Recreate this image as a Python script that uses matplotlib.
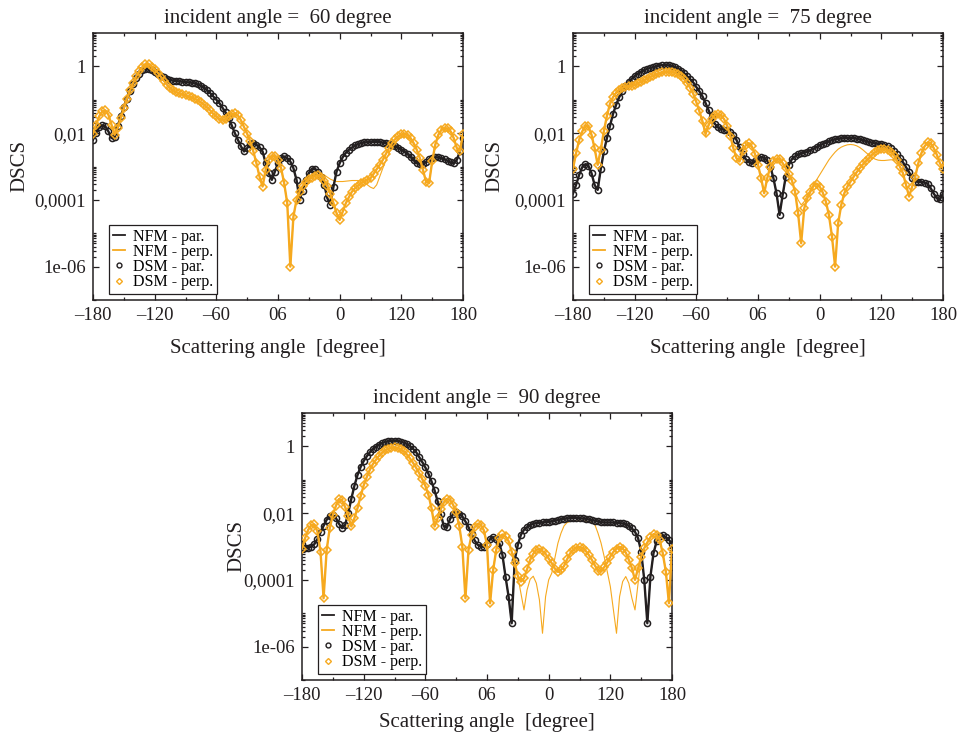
import numpy as np
import matplotlib
matplotlib.use("Agg")
import matplotlib.pyplot as plt
from matplotlib.lines import Line2D
from matplotlib.ticker import FixedLocator, FixedFormatter, NullFormatter

plt.rcParams['font.family'] = ['Liberation Serif', 'DejaVu Serif']

# ---------------- data (log10 of DSCS), scattering angle every 3 degrees ----------------
angles = np.arange(-180, 181, 3)

# incident angle 60
dsm_par_60 = [
    -2.20, -2.00, -1.83, -1.77, -1.80, -1.95, -2.15, -2.12, -1.80, -1.50,
    -1.22, -0.98, -0.75, -0.53, -0.35, -0.22, -0.11, -0.07, -0.08, -0.11,
    -0.17, -0.22, -0.28, -0.33, -0.37, -0.41, -0.43, -0.44, -0.45, -0.46,
    -0.47, -0.48, -0.49, -0.51, -0.54, -0.58, -0.64, -0.71, -0.80, -0.90,
    -1.00, -1.10, -1.24, -1.38, -1.56, -1.77, -2.00, -2.20, -2.40, -2.55,
    -2.45, -2.32, -2.30, -2.35, -2.42, -2.55, -2.90, -3.20, -3.40, -3.15,
    -2.90, -2.75, -2.70, -2.75, -2.85, -3.05, -3.40, -4.00, -3.72, -3.40,
    -3.20, -3.07, -3.07, -3.15, -3.30, -3.55, -3.95, -4.15, -3.60, -3.15,
    -2.90, -2.72, -2.59, -2.50, -2.43, -2.37, -2.33, -2.30, -2.28, -2.27,
    -2.26, -2.26, -2.26, -2.27, -2.29, -2.30, -2.33, -2.35, -2.40, -2.44,
    -2.50, -2.56, -2.63, -2.72, -2.82, -2.90, -2.93, -2.93, -2.87, -2.78,
    -2.74, -2.72, -2.73, -2.75, -2.78, -2.83, -2.88, -2.90, -2.80, -2.55,
    -2.15]
nfm_par_60 = [
    -2.20, -2.00, -1.83, -1.77, -1.80, -1.95, -2.15, -2.12, -1.80, -1.50,
    -1.22, -0.98, -0.75, -0.53, -0.35, -0.22, -0.11, -0.07, -0.08, -0.11,
    -0.17, -0.22, -0.28, -0.33, -0.37, -0.41, -0.43, -0.44, -0.45, -0.46,
    -0.47, -0.48, -0.49, -0.51, -0.54, -0.58, -0.64, -0.71, -0.80, -0.90,
    -1.00, -1.10, -1.24, -1.38, -1.56, -1.77, -2.00, -2.20, -2.40, -2.55,
    -2.45, -2.32, -2.30, -2.35, -2.42, -2.55, -2.90, -3.20, -3.40, -3.15,
    -2.90, -2.75, -2.70, -2.75, -2.85, -3.05, -3.40, -4.00, -3.72, -3.40,
    -3.20, -3.07, -3.07, -3.15, -3.30, -3.55, -3.95, -4.15, -3.60, -3.15,
    -2.90, -2.72, -2.59, -2.50, -2.43, -2.37, -2.33, -2.30, -2.28, -2.27,
    -2.26, -2.26, -2.26, -2.27, -2.29, -2.30, -2.33, -2.35, -2.38, -2.42,
    -2.47, -2.52, -2.58, -2.66, -2.76, -2.85, -2.90, -2.91, -2.86, -2.78,
    -2.74, -2.72, -2.73, -2.75, -2.78, -2.83, -2.88, -2.90, -2.80, -2.55,
    -2.15]
dsm_perp_60 = [
    -2.02, -1.75, -1.50, -1.35, -1.32, -1.45, -1.75, -2.05, -1.85, -1.55,
    -1.25, -0.97, -0.72, -0.50, -0.30, -0.15, -0.03, 0.06, 0.07, -0.01,
    -0.09, -0.19, -0.31, -0.43, -0.55, -0.65, -0.72, -0.77, -0.81, -0.84,
    -0.87, -0.90, -0.93, -0.97, -1.02, -1.08, -1.15, -1.23, -1.32, -1.42,
    -1.50, -1.58, -1.62, -1.58, -1.50, -1.43, -1.41, -1.47, -1.62, -1.82,
    -2.02, -2.25, -2.55, -2.90, -3.30, -3.60, -3.10, -2.80, -2.68, -2.68,
    -2.80, -3.05, -3.50, -4.10, -6.00, -4.50, -4.00, -3.75, -3.58, -3.45,
    -3.38, -3.33, -3.28, -3.25, -3.30, -3.42, -3.58, -3.82, -4.10, -4.40,
    -4.60, -4.35, -4.10, -3.92, -3.75, -3.65, -3.57, -3.50, -3.45, -3.40,
    -3.35, -3.22, -3.08, -2.95, -2.80, -2.62, -2.45, -2.30, -2.18, -2.10,
    -2.04, -2.02, -2.05, -2.15, -2.30, -2.50, -2.75, -3.10, -3.45, -3.50,
    -2.85, -2.35, -2.05, -1.90, -1.85, -1.86, -1.95, -2.15, -2.45, -2.55,
    -2.02]
nfm_perp_60 = [
    -2.02, -1.75, -1.50, -1.35, -1.32, -1.45, -1.75, -2.05, -1.85, -1.55,
    -1.25, -0.97, -0.72, -0.50, -0.30, -0.15, -0.03, 0.06, 0.07, -0.01,
    -0.09, -0.19, -0.31, -0.43, -0.55, -0.65, -0.72, -0.77, -0.81, -0.84,
    -0.87, -0.90, -0.93, -0.97, -1.02, -1.08, -1.15, -1.23, -1.32, -1.42,
    -1.50, -1.62, -1.68, -1.60, -1.50, -1.43, -1.41, -1.47, -1.62, -1.82,
    -2.02, -2.25, -2.55, -2.90, -3.30, -3.60, -3.10, -2.80, -2.68, -2.68,
    -2.80, -3.05, -3.50, -4.10, -6.00, -4.50, -4.00, -3.75, -3.58, -3.45,
    -3.38, -3.33, -3.28, -3.25, -3.22, -3.25, -3.32, -3.38, -3.42, -3.45,
    -3.45, -3.45, -3.44, -3.43, -3.42, -3.42, -3.42, -3.43, -3.47, -3.55,
    -3.62, -3.66, -3.55, -3.30, -3.05, -2.82, -2.60, -2.40, -2.27, -2.18,
    -2.12, -2.10, -2.12, -2.20, -2.32, -2.50, -2.75, -3.10, -3.45, -3.50,
    -2.85, -2.35, -2.05, -1.90, -1.85, -1.86, -1.95, -2.15, -2.45, -2.55,
    -2.02]

# incident angle 75
dsm_par_75 = [
    -3.81, -3.55, -3.25, -3.02, -2.93, -2.98, -3.20, -3.55, -3.70, -3.08,
    -2.55, -2.15, -1.78, -1.42, -1.15, -0.92, -0.75, -0.60, -0.47, -0.38,
    -0.29, -0.22, -0.17, -0.12, -0.08, -0.05, -0.03, 0.00, 0.02, 0.04,
    0.04, 0.03, 0.01, -0.02, -0.07, -0.13, -0.20, -0.29, -0.38, -0.48,
    -0.62, -0.75, -0.90, -1.10, -1.32, -1.53, -1.72, -1.83, -1.88, -1.90,
    -1.92, -1.97, -2.06, -2.20, -2.42, -2.62, -2.78, -2.86, -2.91, -2.85,
    -2.76, -2.72, -2.74, -2.82, -3.00, -3.35, -3.80, -4.45, -3.85, -3.30,
    -2.95, -2.78, -2.70, -2.64, -2.61, -2.59, -2.56, -2.51, -2.47, -2.42,
    -2.37, -2.33, -2.29, -2.25, -2.21, -2.19, -2.17, -2.16, -2.15, -2.15,
    -2.15, -2.15, -2.17, -2.19, -2.21, -2.24, -2.27, -2.29, -2.31, -2.32,
    -2.33, -2.35, -2.40, -2.46, -2.53, -2.63, -2.74, -2.87, -3.02, -3.17,
    -3.35, -3.45, -3.46, -3.46, -3.48, -3.52, -3.65, -3.81, -3.95, -3.98,
    -3.81]
nfm_par_75 = [
    -3.81, -3.55, -3.25, -3.02, -2.93, -2.98, -3.20, -3.55, -3.70, -3.08,
    -2.55, -2.15, -1.78, -1.42, -1.15, -0.92, -0.75, -0.60, -0.47, -0.38,
    -0.29, -0.22, -0.17, -0.12, -0.08, -0.05, -0.03, 0.00, 0.02, 0.04,
    0.04, 0.03, 0.01, -0.02, -0.07, -0.13, -0.20, -0.29, -0.38, -0.48,
    -0.62, -0.75, -0.90, -1.10, -1.32, -1.53, -1.72, -1.83, -1.88, -1.90,
    -1.92, -1.97, -2.06, -2.20, -2.42, -2.62, -2.78, -2.86, -2.91, -2.85,
    -2.76, -2.72, -2.74, -2.82, -3.00, -3.35, -3.80, -4.45, -3.85, -3.30,
    -2.95, -2.78, -2.70, -2.64, -2.61, -2.59, -2.56, -2.51, -2.47, -2.42,
    -2.37, -2.33, -2.29, -2.25, -2.21, -2.19, -2.17, -2.16, -2.15, -2.15,
    -2.15, -2.15, -2.17, -2.19, -2.21, -2.24, -2.27, -2.29, -2.31, -2.32,
    -2.33, -2.35, -2.40, -2.46, -2.53, -2.63, -2.74, -2.87, -3.02, -3.17,
    -3.35, -3.45, -3.46, -3.46, -3.48, -3.52, -3.65, -3.81, -3.95, -3.98,
    -3.81]
dsm_perp_75 = [
    -3.06, -2.60, -2.20, -1.95, -1.78, -1.80, -2.05, -2.45, -2.95, -2.50,
    -1.95, -1.48, -1.12, -0.92, -0.79, -0.70, -0.64, -0.61, -0.59, -0.58,
    -0.56, -0.51, -0.46, -0.42, -0.37, -0.32, -0.28, -0.24, -0.21, -0.18,
    -0.17, -0.16, -0.16, -0.19, -0.24, -0.30, -0.38, -0.50, -0.64, -0.82,
    -1.07, -1.35, -1.65, -2.00, -1.75, -1.57, -1.46, -1.42, -1.47, -1.58,
    -1.78, -2.08, -2.45, -2.75, -2.85, -2.55, -2.37, -2.30, -2.40, -2.62,
    -2.95, -3.35, -3.80, -3.35, -3.00, -2.85, -2.78, -2.78, -2.90, -3.05,
    -3.22, -3.42, -3.75, -4.40, -5.30, -4.25, -3.95, -3.75, -3.58, -3.51,
    -3.60, -3.78, -4.05, -4.45, -5.10, -6.00, -4.70, -4.15, -3.80, -3.60,
    -3.45, -3.31, -3.17, -3.05, -2.94, -2.84, -2.75, -2.65, -2.57, -2.51,
    -2.48, -2.47, -2.50, -2.56, -2.65, -2.80, -3.00, -3.20, -3.55, -3.90,
    -3.60, -3.30, -2.90, -2.60, -2.40, -2.28, -2.30, -2.45, -2.65, -2.90,
    -3.06]
nfm_perp_75 = [
    -3.06, -2.60, -2.20, -1.95, -1.78, -1.80, -2.05, -2.45, -2.95, -2.50,
    -1.95, -1.48, -1.12, -0.92, -0.79, -0.70, -0.64, -0.61, -0.59, -0.58,
    -0.56, -0.51, -0.46, -0.42, -0.37, -0.32, -0.28, -0.24, -0.21, -0.18,
    -0.17, -0.16, -0.16, -0.19, -0.24, -0.30, -0.38, -0.50, -0.64, -0.82,
    -1.07, -1.35, -1.70, -2.10, -1.78, -1.57, -1.46, -1.42, -1.47, -1.58,
    -1.78, -2.08, -2.45, -2.75, -2.85, -2.55, -2.37, -2.30, -2.40, -2.62,
    -2.95, -3.35, -3.80, -3.35, -3.00, -2.85, -2.78, -2.78, -2.90, -3.05,
    -3.22, -3.42, -3.75, -4.00, -4.15, -4.05, -3.85, -3.70, -3.55, -3.40,
    -3.25, -3.10, -2.95, -2.80, -2.68, -2.57, -2.48, -2.42, -2.38, -2.35,
    -2.34, -2.35, -2.38, -2.43, -2.50, -2.58, -2.66, -2.73, -2.78, -2.81,
    -2.82, -2.82, -2.81, -2.80, -2.80, -2.82, -3.00, -3.20, -3.55, -3.90,
    -3.60, -3.30, -2.90, -2.60, -2.40, -2.28, -2.30, -2.45, -2.65, -2.90,
    -3.06]

# incident angle 90
dsm_par_90 = [
    -2.92, -3.04, -3.05, -3.00, -2.93, -2.78, -2.58, -2.38, -2.20, -2.08,
    -2.05, -2.15, -2.32, -2.45, -2.35, -2.00, -1.57, -1.18, -0.86, -0.62,
    -0.44, -0.30, -0.18, -0.08, -0.01, 0.05, 0.10, 0.13, 0.15, 0.17,
    0.17, 0.16, 0.14, 0.11, 0.07, 0.01, -0.07, -0.17, -0.32, -0.47,
    -0.63, -0.82, -1.05, -1.32, -1.65, -2.02, -2.40, -2.42, -2.18, -2.03,
    -1.98, -2.02, -2.10, -2.25, -2.42, -2.62, -2.82, -2.95, -3.00, -3.01,
    -2.92, -2.78, -2.72, -2.78, -2.90, -3.25, -3.90, -4.50, -5.30, -3.40,
    -2.95, -2.65, -2.50, -2.42, -2.36, -2.32, -2.30, -2.29, -2.28, -2.27,
    -2.26, -2.25, -2.23, -2.21, -2.19, -2.17, -2.16, -2.15, -2.14, -2.14,
    -2.15, -2.16, -2.17, -2.19, -2.21, -2.23, -2.25, -2.27, -2.28, -2.28,
    -2.28, -2.28, -2.29, -2.30, -2.31, -2.33, -2.38, -2.46, -2.56, -2.75,
    -3.15, -4.00, -5.30, -3.90, -3.20, -2.85, -2.70, -2.67, -2.72, -2.80,
    -2.92]
nfm_par_90 = [
    -2.92, -3.04, -3.05, -3.00, -2.93, -2.78, -2.58, -2.38, -2.20, -2.08,
    -2.05, -2.15, -2.32, -2.45, -2.35, -2.00, -1.57, -1.18, -0.86, -0.62,
    -0.44, -0.30, -0.18, -0.08, -0.01, 0.05, 0.10, 0.13, 0.15, 0.17,
    0.17, 0.16, 0.14, 0.11, 0.07, 0.01, -0.07, -0.17, -0.32, -0.47,
    -0.63, -0.82, -1.05, -1.32, -1.65, -2.02, -2.40, -2.42, -2.18, -2.03,
    -1.98, -2.02, -2.10, -2.25, -2.42, -2.62, -2.82, -2.95, -3.00, -3.01,
    -2.92, -2.78, -2.72, -2.78, -2.90, -3.25, -3.90, -4.50, -5.30, -3.40,
    -2.95, -2.65, -2.50, -2.42, -2.36, -2.32, -2.30, -2.29, -2.28, -2.27,
    -2.26, -2.25, -2.23, -2.21, -2.19, -2.17, -2.16, -2.15, -2.14, -2.14,
    -2.15, -2.16, -2.17, -2.19, -2.21, -2.23, -2.25, -2.27, -2.28, -2.28,
    -2.28, -2.28, -2.29, -2.30, -2.31, -2.33, -2.38, -2.46, -2.56, -2.75,
    -3.15, -4.00, -5.30, -3.90, -3.20, -2.85, -2.70, -2.67, -2.72, -2.80,
    -2.92]
dsm_perp_90 = [
    -3.06, -2.75, -2.50, -2.36, -2.34, -2.55, -3.15, -4.55, -3.10, -2.45,
    -2.05, -1.78, -1.58, -1.62, -1.82, -2.10, -2.40, -2.15, -1.85, -1.50,
    -1.17, -0.92, -0.70, -0.53, -0.40, -0.28, -0.19, -0.12, -0.07, -0.04,
    -0.03, -0.05, -0.09, -0.15, -0.24, -0.36, -0.49, -0.64, -0.80, -0.98,
    -1.18, -1.45, -1.85, -2.40, -2.15, -1.88, -1.68, -1.58, -1.60, -1.75,
    -1.98, -2.38, -3.00, -4.55, -3.10, -2.65, -2.42, -2.32, -2.35, -2.52,
    -2.95, -4.70, -3.70, -3.10, -2.75, -2.64, -2.70, -2.84, -3.15, -3.50,
    -3.88, -4.05, -3.95, -3.68, -3.40, -3.22, -3.10, -3.07, -3.14, -3.22,
    -3.36, -3.50, -3.66, -3.76, -3.70, -3.58, -3.38, -3.20, -3.10, -3.03,
    -3.01, -3.05, -3.13, -3.25, -3.40, -3.57, -3.72, -3.74, -3.62, -3.48,
    -3.30, -3.16, -3.06, -3.01, -3.06, -3.18, -3.40, -3.65, -4.00, -3.65,
    -3.30, -3.05, -2.88, -2.72, -2.63, -2.65, -2.80, -3.20, -3.75, -4.70,
    -3.06]
nfm_perp_90 = [
    -3.06, -2.75, -2.50, -2.36, -2.34, -2.55, -3.15, -4.55, -3.10, -2.45,
    -2.05, -1.78, -1.58, -1.62, -1.82, -2.10, -2.40, -2.15, -1.85, -1.50,
    -1.17, -0.92, -0.70, -0.53, -0.40, -0.28, -0.19, -0.12, -0.07, -0.04,
    -0.03, -0.05, -0.09, -0.15, -0.24, -0.36, -0.49, -0.64, -0.80, -0.98,
    -1.18, -1.45, -1.85, -2.40, -2.15, -1.88, -1.68, -1.58, -1.60, -1.75,
    -1.98, -2.38, -3.00, -4.55, -3.10, -2.65, -2.42, -2.32, -2.35, -2.52,
    -2.95, -4.70, -3.70, -3.10, -2.75, -2.64, -2.70, -2.84, -3.15, -3.50,
    -3.90, -4.40, -4.90, -4.30, -3.98, -3.89, -4.10, -4.60, -5.60, -4.50,
    -4.00, -3.80, -3.35, -2.90, -2.60, -2.38, -2.28, -2.25, -2.24, -2.24,
    -2.24, -2.24, -2.24, -2.25, -2.28, -2.35, -2.60, -2.90, -3.30, -3.75,
    -4.20, -4.90, -5.60, -4.50, -4.05, -3.90, -4.10, -4.55, -4.90, -4.10,
    -3.30, -3.05, -2.88, -2.72, -2.63, -2.65, -2.80, -3.20, -3.75, -4.70,
    -3.06]

panels = [
    ("incident angle =  60 degree", nfm_par_60, nfm_perp_60, dsm_par_60, dsm_perp_60),
    ("incident angle =  75 degree", nfm_par_75, nfm_perp_75, dsm_par_75, dsm_perp_75),
    ("incident angle =  90 degree", nfm_par_90, nfm_perp_90, dsm_par_90, dsm_perp_90),
]

x_ticks = [-180, -120, -60, 0, 60, 120, 180]
x_ticklabels = ['\u2013180', '\u2013120', '\u201360', '06', '0', '120', '180']
x_minor = [-150, -90, -30, 30, 90, 150]
y_ticks = [1e-6, 1e-4, 1e-2, 1]
y_ticklabels = ['1e-06', '0,0001', '0,01', '1']
legend_labels = ['NFM - par.', 'NFM - perp.', 'DSM - par.', 'DSM - perp.']

BLACK = '#231f20'
ORANGE = '#f6a91f'

W, H = 959, 735
fig = plt.figure(figsize=(W / 100, H / 100), dpi=100)

def frac(left, top, right, bottom):
    return [left / W, 1 - bottom / H, (right - left) / W, (bottom - top) / H]

rects = [frac(93, 33, 463, 300), frac(573, 33, 943, 300), frac(302, 413, 672, 680)]
ylabel_x = [-0.197, -0.211, -0.176]
xlabel_y = [-0.183, -0.183, -0.158]

minor_y = [k * 10.0 ** e for e in (-8, -6, -4, -2, 0) for k in range(2, 11)]
minor_y = [v for v in minor_y if 1e-7 <= v <= 10]

for (title, n_par, n_perp, d_par, d_perp), rect, ylx, xly in zip(panels, rects, ylabel_x, xlabel_y):
    ax = fig.add_axes(rect)
    ax.plot(angles, 10.0 ** np.array(n_par), color=BLACK, lw=0.8, zorder=2)
    ax.plot(angles, 10.0 ** np.array(n_perp), color=ORANGE, lw=0.8, zorder=2)
    # DSM results: dense open markers forming a thick band
    ax.plot(angles, 10.0 ** np.array(d_par), ls='-', lw=1.7, color=BLACK, marker='o', ms=4.4,
            mfc='none', mec=BLACK, mew=1.1, zorder=3, solid_joinstyle='round')
    ax.plot(angles, 10.0 ** np.array(d_perp), ls='-', lw=1.7, color=ORANGE, marker='D', ms=3.9,
            mfc='none', mec=ORANGE, mew=1.1, zorder=4, solid_joinstyle='round')

    ax.set_yscale('log')
    ax.set_xlim(-180, 180)
    ax.set_ylim(1e-7, 10)
    ax.xaxis.set_major_locator(FixedLocator(x_ticks))
    ax.xaxis.set_major_formatter(FixedFormatter(x_ticklabels))
    ax.xaxis.set_minor_locator(FixedLocator(x_minor))
    ax.yaxis.set_major_locator(FixedLocator(y_ticks))
    ax.yaxis.set_major_formatter(FixedFormatter(y_ticklabels))
    ax.yaxis.set_minor_locator(FixedLocator(minor_y))
    ax.yaxis.set_minor_formatter(NullFormatter())
    ax.tick_params(which='both', direction='in', top=True, right=True, width=0.9,
                   labelsize=13.5, pad=5, colors=BLACK)
    ax.tick_params(which='major', length=4.5)
    ax.tick_params(which='minor', length=2.2)
    for s in ax.spines.values():
        s.set_linewidth(1.1)
        s.set_color(BLACK)

    ax.set_title(title, fontsize=15, y=1.055, va='center', pad=0, color=BLACK)
    ax.set_ylabel('DSCS', fontsize=15, va='center', ha='center', color=BLACK)
    ax.yaxis.set_label_coords(ylx, 0.5)
    ax.set_xlabel('Scattering angle  [degree]', fontsize=15, va='center', color=BLACK)
    ax.xaxis.set_label_coords(0.5, xly)

    handles = [Line2D([], [], color=BLACK, lw=1.3),
               Line2D([], [], color=ORANGE, lw=1.3),
               Line2D([], [], ls='none', marker='o', ms=3.5, mfc='none', mec=BLACK, mew=1.0),
               Line2D([], [], ls='none', marker='D', ms=3.0, mfc='none', mec=ORANGE, mew=1.0)]
    leg = ax.legend(handles, legend_labels, loc='lower left', bbox_to_anchor=(0.042, 0.022),
                    borderaxespad=0, fontsize=11.5, frameon=True, fancybox=False,
                    edgecolor=BLACK, framealpha=1, handlelength=0.8, handletextpad=0.5,
                    borderpad=0.25, labelspacing=-0.05)
    leg.get_frame().set_linewidth(0.9)

fig.savefig('out.png', dpi=100)
